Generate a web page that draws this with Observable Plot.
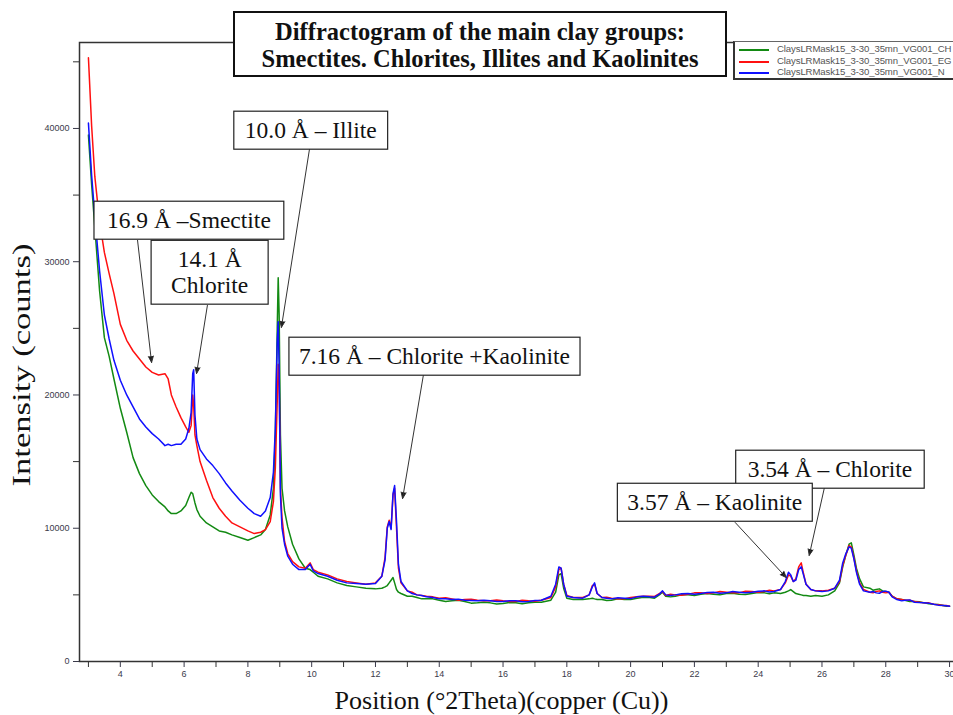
<!DOCTYPE html>
<html><head><meta charset="utf-8">
<script src="https://cdn.jsdelivr.net/npm/d3@7"></script>
<script src="https://cdn.jsdelivr.net/npm/@observablehq/plot@0.6"></script>
<style>
html,body{margin:0;padding:0;background:#fff;overflow:hidden;width:953px;height:715px;}
#wrap{position:relative;width:953px;height:715px;overflow:hidden;}
#chart{position:absolute;left:0;top:0;}
#chart svg{max-width:none !important;}
#title{position:absolute;left:233px;top:11px;width:490px;height:57px;padding-top:5px;border:2.5px solid #111;background:#fff;
 font-family:"Liberation Serif","Times New Roman",serif;font-weight:bold;font-size:24.5px;line-height:27px;text-align:center;color:#111;box-sizing:content-box;white-space:nowrap;}
#legend{position:absolute;left:733px;top:41px;width:260px;height:36px;border:1px solid #666;border-left:2px solid #333;border-bottom:2px solid #333;background:#fff;}
.li{position:absolute;left:0;height:12px;white-space:nowrap;font-family:"Liberation Sans",Arial,sans-serif;font-size:9.6px;letter-spacing:-0.12px;color:#555;}
.li span.sw{position:absolute;left:4px;top:6px;width:30px;height:0;border-top:2px solid;}
.li span.tx{position:absolute;left:42px;top:0px;line-height:12px;}
</style></head>
<body>
<div id="wrap">
<div id="chart"></div>
<div id="title">Diffractogram of the main clay groups:<br>Smectites. Chlorites, Illites and Kaolinites</div>
<div id="legend"></div>
</div>
<script>
// ---- data ----
const theta = [3.0,3.1,3.2,3.35,3.5,3.65,3.8,4.0,4.2,4.4,4.6,4.8,5.0,5.2,5.4,5.5,5.6,5.75,5.9,6.05,6.15,6.22,6.27,6.3,6.34,6.4,6.5,6.7,6.9,7.1,7.3,7.5,7.75,8.0,8.2,8.4,8.55,8.7,8.8,8.86,8.92,8.95,8.98,9.02,9.07,9.15,9.25,9.4,9.6,9.8,9.95,10.05,10.2,10.5,10.8,11.1,11.4,11.7,12.0,12.2,12.3,12.37,12.43,12.49,12.55,12.6,12.66,12.72,12.8,13.0,13.3,13.6,14.0,14.4,14.8,15.2,15.6,16.0,16.4,16.8,17.2,17.5,17.65,17.75,17.82,17.9,18.0,18.2,18.5,18.7,18.8,18.87,18.95,19.1,19.4,19.8,20.2,20.6,20.9,21.0,21.1,21.4,21.8,22.2,22.6,23.0,23.4,23.8,24.2,24.5,24.7,24.85,24.95,25.02,25.1,25.18,25.27,25.35,25.42,25.5,25.65,25.8,26.0,26.2,26.4,26.55,26.65,26.75,26.85,26.92,27.0,27.08,27.18,27.3,27.5,27.7,27.9,28.1,28.2,28.35,28.6,28.9,29.2,29.5,29.8,30.0];

const countsCH = [39500,35800,32600,27800,24300,22900,21200,19000,17200,15300,14100,13200,12500,12000,11600,11300,11100,11100,11300,11700,12300,12700,12600,12300,11900,11400,10900,10400,10100,9800,9700,9500,9300,9100,9300,9500,9900,11000,13000,17000,25000,28800,26000,17000,13000,11300,10100,8800,7700,7000,6900,6700,6400,6200,5900,5700,5600,5500,5450,5500,5600,5700,5900,6100,6300,5900,5400,5200,5100,4900,4800,4700,4600,4550,4500,4400,4400,4350,4400,4400,4450,4600,5200,6500,6600,5500,4750,4650,4650,4700,4750,4700,4650,4650,4600,4650,4750,4800,5000,5200,4900,4900,5000,5050,5050,5100,5050,5100,5150,5150,5100,5200,5300,5400,5250,5100,5050,5000,4950,4950,4900,4950,4900,5000,5300,5900,7100,8000,8800,8900,8000,7000,6200,5600,5500,5400,5300,5200,4900,4700,4600,4500,4400,4300,4200,4150];

const countsEG = [45300,40200,36400,33000,30700,29100,27600,25300,24100,23300,22700,22100,21700,21500,21600,21200,20000,19100,18300,17600,17200,17700,20000,19200,17000,16200,15000,13600,12300,11500,10900,10400,10100,9800,9600,9700,9900,10500,12000,14500,19500,22300,21000,13000,10800,9000,8100,7500,7100,7000,7400,6900,6700,6500,6200,6000,5900,5800,5900,6400,7800,10100,10600,10000,12500,13000,10000,7000,5900,5300,5000,4900,4750,4700,4650,4600,4550,4550,4500,4550,4600,4800,5600,6900,7000,5800,4950,4800,4800,5000,5700,5800,5100,4800,4750,4700,4850,4900,5100,5250,4950,5000,5050,5150,5150,5200,5150,5250,5250,5300,5400,5900,6500,6400,6000,6200,7100,7400,6600,5800,5400,5300,5300,5350,5500,6000,7200,8000,8700,8600,7800,6800,5900,5400,5200,5250,5200,5200,4900,4700,4600,4500,4400,4300,4200,4150];

const countsN = [40400,36500,33400,29300,26000,24200,22600,21100,20000,19100,18200,17600,17100,16700,16200,16300,16200,16300,16300,16700,17500,18700,21600,21900,18500,16700,15900,15200,14700,14100,13400,12800,12100,11500,11100,10900,11300,12300,14200,17500,24000,25500,22000,12500,10000,8800,7900,7300,6900,6900,7300,6800,6600,6400,6100,5900,5850,5800,5850,6400,7600,10000,10500,9900,12600,13200,10500,7300,6000,5300,5000,4850,4700,4650,4600,4550,4550,4500,4550,4500,4600,4900,5800,7100,7000,5800,4900,4800,4750,5000,5600,5900,5100,4800,4700,4750,4850,4850,5050,5300,5000,5000,5100,5100,5200,5150,5200,5200,5300,5250,5400,6000,6700,6500,6000,6100,6900,7100,6500,5800,5400,5300,5250,5300,5500,6100,7400,8100,8600,8500,7700,6700,5800,5300,5200,5150,5250,5200,4850,4650,4600,4450,4400,4300,4200,4150];

// extra readings of the jitter along the flat stretches
const thetaDetail = [13.15,13.45,13.8,14.2,14.6,15.0,15.4,15.8,16.2,16.6,17.0,19.25,19.6,20.0,20.4,20.75,21.25,21.6,22.0,22.4,22.8,23.2,23.6,24.0,24.35,27.6,27.8,28.0,28.5,28.75,29.05,29.35,29.65,29.9];
const countsCHDetail = [4900,4700,4700,4500,4600,4380,4450,4320,4420,4330,4450,4580,4700,4650,4820,4750,4850,5000,4950,5100,5000,5120,5020,5180,5080,5350,5450,5250,4650,4500,4480,4330,4280,4150];
const countsEGDetail = [5200,4950,4850,4780,4600,4680,4550,4620,4500,4600,4520,4820,4700,4800,4900,4880,5050,4980,5150,5100,5250,5150,5280,5200,5350,5150,5300,5150,4650,4600,4450,4400,4250,4200];
const countsNDetail = [5100,4950,4800,4700,4680,4580,4600,4500,4560,4480,4580,4750,4780,4720,4900,4830,4950,5080,5050,5180,5120,5250,5150,5280,5220,5250,5120,5280,4550,4620,4420,4380,4230,4180];

const seriesNames = ["ClaysLRMask15_3-30_35mn_VG001_CH","ClaysLRMask15_3-30_35mn_VG001_EG","ClaysLRMask15_3-30_35mn_VG001_N"];

const yMajorTicks = [0,10000,20000,30000,40000];
const yMinorTicks = [5000,15000,25000,35000,45000];
const xMajorTicks = [4,6,8,10,12,14,16,18,20,22,24,26,28,30];
const xMinorTicks = [3,5,7,9,11,13,15,17,19,21,23,25,27,29];

const annLabels = ["10.0 Å – Illite","16.9 Å –Smectite","14.1 Å\nChlorite","7.16 Å – Chlorite +Kaolinite","3.54 Å – Chlorite","3.57 Å – Kaolinite"];
const annX = [9.97,6.15,6.8,13.85,26.25,22.64];
const annY = [39890,33135,29230,22930,14450,11970];
const arrowFromX = [9.93,4.54,6.73,13.5,26.07,23.28];
const arrowFromY = [38430,31600,26720,21460,12980,10430];
const arrowToX = [9.05,4.98,6.39,12.85,25.6,24.88];
const arrowToY = [25070,22440,21610,12230,7960,6300];

// ---- style ----
const colors = ["#138a13","#ff1010","#1010ff"];
const boxPad = [[11,6],[13,6],[20,6],[10,6],[12,6],[10,6]];

const rows = theta.map((t,i) => ({t, ch: countsCH[i], eg: countsEG[i], n: countsN[i]}))
  .concat(thetaDetail.map((t,i) => ({t, ch: countsCHDetail[i], eg: countsEGDetail[i], n: countsNDetail[i]})))
  .sort((a,b) => a.t - b.t);
const ann = annLabels.map((label,i) => ({label, x: annX[i], y: annY[i], x1: arrowFromX[i], y1: arrowFromY[i], x2: arrowToX[i], y2: arrowToY[i]}));

const tickFont = "'Liberation Sans Narrow','Arial Narrow','Liberation Sans',sans-serif";
const serif = "'Liberation Serif','Times New Roman',serif";

const chart = Plot.plot({
  width: 975, height: 715,
  marginLeft: 79, marginRight: 10, marginTop: 42, marginBottom: 54,
  x: {domain: [2.72, 30.5]},
  y: {domain: [0, 46450]},
  style: {background: "#fff", overflow: "visible"},
  marks: [
    Plot.frame({stroke: "#333", strokeWidth: 1.5}),
    Plot.axisY({ticks: yMajorTicks, tickSize: 6, tickPadding: 4, tickFormat: d => String(d), label: null, fontSize: 9, fontFamily: tickFont, color: "#3a3a4a"}),
    Plot.axisY({ticks: yMinorTicks, tickSize: 6, tickFormat: () => "", label: null, color: "#333"}),
    Plot.axisX({ticks: xMajorTicks, tickSize: 6, tickPadding: 3, tickFormat: d => String(d), label: null, fontSize: 9, fontFamily: tickFont, color: "#3a3a4a"}),
    Plot.axisX({ticks: xMinorTicks, tickSize: 6, tickFormat: () => "", label: null, color: "#333"}),
    Plot.line(rows, {x: "t", y: "ch", stroke: colors[0], strokeWidth: 1.5}),
    Plot.line(rows, {x: "t", y: "eg", stroke: colors[1], strokeWidth: 1.5}),
    Plot.line(rows, {x: "t", y: "n", stroke: colors[2], strokeWidth: 1.5}),
    Plot.arrow(ann, {x1: "x1", y1: "y1", x2: "x2", y2: "y2", stroke: "#333", fill: "#111", strokeWidth: 1, headLength: 10, headAngle: 44}),
    Plot.text(ann, {x: "x", y: "y", text: "label", fontSize: 23.5, fontFamily: serif, fontStyle: "normal", fill: "#111", lineHeight: 1.1}),
    Plot.text(["Intensity (counts)"], {text: d => d, frameAnchor: "left", textAnchor: "middle", rotate: -90, dx: -58, dy: 13, fontSize: 26, fontFamily: serif, fontVariant: "normal", fill: "#111"}),
    Plot.text(["Position (°2Theta)(copper (Cu))"], {text: d => d, frameAnchor: "bottom", lineAnchor: "middle", dx: -21, dy: 39, fontSize: 26, fontFamily: serif, fill: "#111"})
  ]
});
document.getElementById("chart").append(chart);

// white boxes with borders behind annotation labels
const g = chart.querySelector('g[font-style="normal"]');
if (g) {
  Array.from(g.querySelectorAll("text")).forEach((t, i) => {
    const b = t.getBBox();
    const [px, py] = boxPad[i] || [10, 6];
    const r = document.createElementNS("http://www.w3.org/2000/svg", "rect");
    r.setAttribute("x", b.x - px);
    r.setAttribute("y", b.y - py);
    r.setAttribute("width", b.width + 2 * px);
    r.setAttribute("height", b.height + 2 * py);
    r.setAttribute("fill", "#fff");
    r.setAttribute("stroke", "#222");
    r.setAttribute("stroke-width", "1.2");
    if (t.getAttribute("transform")) r.setAttribute("transform", t.getAttribute("transform"));
    g.insertBefore(r, t);
  });
}
// the vertical axis title is drawn taller (stretched along its length) as in the reference
const gy = chart.querySelector('g[font-variant="normal"]');
if (gy) {
  gy.querySelectorAll("text").forEach(t => {
    const tr = t.getAttribute("transform") || "";
    t.setAttribute("transform", tr + " scale(1.33,1)");
  });
}

// legend
const leg = document.getElementById("legend");
seriesNames.forEach((name, i) => {
  const d = document.createElement("div");
  d.className = "li";
  d.style.top = (1 + i * 11.5) + "px";
  d.innerHTML = `<span class="sw" style="border-color:${colors[i]}"></span><span class="tx">${name}</span>`;
  leg.append(d);
});
</script>
</body></html>
